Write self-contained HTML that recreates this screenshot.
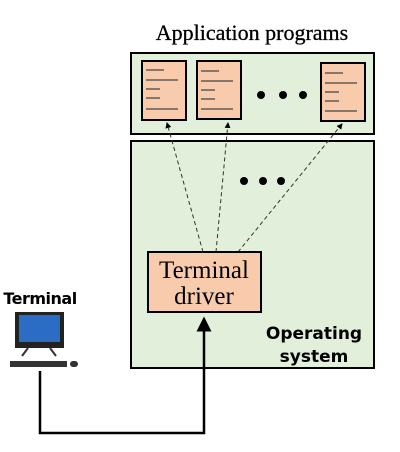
<!DOCTYPE html>
<html><head><style>body{margin:0;background:#fff;width:400px;height:447px;overflow:hidden}</style></head>
<body>
<svg width="400" height="447" viewBox="0 0 400 447" xmlns="http://www.w3.org/2000/svg">
<defs><marker id="a" markerWidth="6" markerHeight="6" refX="3" refY="3" orient="auto" markerUnits="strokeWidth"><path d="M0,0 L6,3 L0,6 z" fill="#000"/></marker>
<marker id="s" markerWidth="6" markerHeight="6" refX="5" refY="3" orient="auto"><path d="M0,0 L6,3 L0,6 z" fill="#000"/></marker></defs>
<text x="252" y="40" text-anchor="middle" font-family="Liberation Serif, serif" font-size="22" stroke="#000" stroke-width="0.3">Application programs</text>
<rect x="131" y="53" width="243" height="81" fill="#e2efda" stroke="#000" stroke-width="2"/>
<rect x="131" y="141" width="243" height="227" fill="#e2efda" stroke="#000" stroke-width="2"/>
<g stroke="#000" stroke-width="2" fill="#f8cbad">
<rect x="142" y="61" width="44" height="59"/><rect x="197" y="61" width="44" height="58"/><rect x="321" y="63" width="44" height="58"/></g>
<g stroke="#444" stroke-width="1.3">
<path d="M146 70h18M146 80h32M146 89h14M146 98h14M146 109h32"/>
<path d="M201 71h18M201 81h32M201 90h14M201 99h14M201 109h32"/>
<path d="M325 73h18M325 83h32M325 92h14M325 101h14M325 111h32"/></g>
<g fill="#000"><circle cx="261" cy="95" r="4"/><circle cx="283" cy="95" r="4"/><circle cx="303" cy="95" r="4"/>
<circle cx="244" cy="181" r="4"/><circle cx="263" cy="181" r="4"/><circle cx="281" cy="181" r="4"/></g>
<g stroke="#333" stroke-width="1" stroke-dasharray="4,3" fill="none">
<line x1="203" y1="252" x2="167" y2="123" marker-end="url(#s)"/>
<line x1="216" y1="252" x2="228" y2="123" marker-end="url(#s)"/>
<line x1="238" y1="252" x2="342" y2="124" marker-end="url(#s)"/></g>
<rect x="148" y="252" width="113" height="60" fill="#f8cbad" stroke="#000" stroke-width="2"/>
<text x="204" y="278" text-anchor="middle" font-family="Liberation Serif, serif" font-size="25">Terminal</text>
<text x="204" y="304" text-anchor="middle" font-family="Liberation Serif, serif" font-size="25">driver</text>
<text x="314" y="339" text-anchor="middle" font-family="DejaVu Sans, sans-serif" font-weight="bold" font-size="17">Operating</text>
<text x="314" y="362" text-anchor="middle" font-family="DejaVu Sans, sans-serif" font-weight="bold" font-size="17">system</text>
<text x="40" y="304" text-anchor="middle" font-family="DejaVu Sans, sans-serif" font-weight="bold" font-size="16" letter-spacing="-0.5">Terminal</text>
<rect x="15" y="312" width="49" height="36" fill="#222"/>
<rect x="19" y="315" width="41" height="27" fill="#2b6cc4"/>
<path d="M28 348l-6 8M50 348l6 8" stroke="#333" stroke-width="2"/>
<rect x="10" y="361" width="57" height="6" fill="#333"/>
<rect x="70" y="361" width="8" height="6" rx="3" fill="#333"/>
<path d="M40 371V433H204V324" fill="none" stroke="#000" stroke-width="2.5" marker-end="url(#a)"/>
</svg>
</body></html>
